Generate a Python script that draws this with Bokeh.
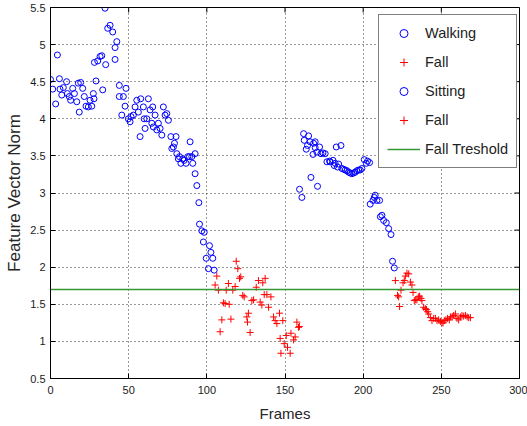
from bokeh.plotting import figure
from bokeh.models import Legend, LegendItem, FixedTicker
from bokeh.embed import file_html
from bokeh.resources import INLINE

# ---------------- data ----------------
walk_frames = [0.0, 1.4, 3.3, 4.4, 5.7, 6.1, 7.2, 8.2, 10.3, 10.8, 12.0, 12.9, 14.2, 15.3,
               16.8, 17.8, 18.4, 19.3, 20.6, 21.6, 22.7, 24.2, 25.3, 26.4, 27.4, 27.8, 29.1,
               28.1, 30.2, 31.7, 32.8, 33.4, 34.9, 35.3, 36.6, 38.1, 39.8, 41.3, 41.3, 42.4,
               44.0, 44.0, 45.6, 46.6, 47.7, 48.3, 49.8, 50.9, 51.5, 53.0, 54.1, 55.2, 56.2,
               57.3, 57.7, 59.4, 59.9, 60.5, 61.6, 62.6, 63.7, 64.8, 65.4, 65.8, 66.9, 68.0,
               69.0, 70.1, 71.2, 72.2, 73.3, 74.4, 75.4, 77.0, 77.6, 78.6, 79.3, 80.3, 80.8,
               81.8, 82.5, 83.4, 84.6, 85.5, 86.7, 87.8, 88.9, 89.3, 90.4, 91.0, 92.5, 92.5,
               93.6, 94.9, 95.3, 96.8, 98.3, 97.8, 101.7, 102.6, 99.6, 103.8, 101.0, 104.7]
walk_values = [4.53, 4.40, 4.20, 4.86, 4.54, 4.40, 4.32, 4.42, 4.50, 4.34, 4.30, 4.25, 4.41, 4.34,
               4.23, 4.48, 4.09, 4.49, 4.41, 4.30, 4.17, 4.16, 4.25, 4.17, 4.34, 4.27, 4.51,
               4.76, 4.78, 4.84, 4.85, 4.39, 5.49, 4.73, 5.22, 5.26, 5.17, 4.80, 4.96, 5.04,
               4.45, 4.30, 4.05, 4.30, 4.17, 4.41, 4.00, 3.96, 4.03, 4.05, 4.16, 4.25, 4.09,
               3.76, 4.27, 4.16, 4.00, 3.87, 4.00, 4.27, 4.12, 3.94, 4.16, 3.89, 4.05, 3.85,
               3.94, 3.87, 3.78, 4.16, 4.05, 4.07, 3.98, 3.76, 3.60, 3.62, 3.67, 3.76, 3.53,
               3.46, 3.49, 3.40, 3.46, 3.44, 3.40, 3.49, 3.49, 3.69, 3.49, 3.40, 3.53, 3.26,
               3.10, 2.87, 2.58, 2.49, 2.47, 2.34, 2.29, 2.20, 2.12, 2.12, 1.98, 1.96]

fall1_frames = [106.4, 105.3, 107.4, 112.4, 113.8, 110.6, 111.7, 114.3, 109.6, 108.5, 115.4,
                116.6, 118.1, 118.8, 119.8, 120.9, 121.7, 123.0, 123.9, 125.6, 126.0, 126.6,
                127.7, 128.8, 129.9, 131.6, 133.0, 134.1, 135.2, 135.8, 137.3, 136.7, 138.4,
                139.5, 141.0, 142.7, 143.7, 144.8, 146.5, 146.9, 148.6, 147.4, 149.5, 150.8,
                151.6, 153.3, 153.8, 155.5, 156.5, 157.6, 158.6, 159.2]
fall1_values = [1.88, 1.76, 1.69, 1.69, 1.78, 1.52, 1.51, 1.50, 1.29, 1.13, 1.30,
                1.69, 1.74, 2.08, 1.98, 1.85, 1.87, 1.62, 1.60, 1.33, 1.26, 1.38,
                1.12, 1.55, 1.56, 1.73, 1.82, 1.53, 1.49, 1.79, 1.85, 1.63, 1.63,
                1.46, 1.60, 1.33, 1.28, 1.24, 1.38, 1.04, 1.28, 0.84, 0.97, 1.08,
                0.92, 0.84, 1.11, 1.02, 1.06, 1.26, 1.19, 1.20]

sit_frames = [159.3, 160.8, 161.9, 162.3, 163.6, 164.4, 165.1, 166.1, 166.6, 167.9, 168.3,
              169.3, 169.3, 170.4, 170.8, 172.1, 173.0, 174.3, 175.7, 176.8, 178.5, 178.9,
              180.7, 181.5, 182.1, 182.8, 183.6, 184.3, 185.8, 186.4, 187.5, 188.5, 189.6,
              190.7, 191.7, 192.8, 193.9, 194.9, 196.0, 197.1, 198.1, 199.2, 200.7, 202.0,
              202.8, 204.1, 204.5, 206.3, 207.1, 207.7, 208.8, 210.5, 211.0, 212.0, 213.1,
              214.8, 216.3, 217.8, 218.8, 219.9]
sit_values = [3.05, 2.94, 3.80, 3.71, 3.59, 3.64, 3.77, 3.69, 3.21, 3.52, 3.67,
              3.69, 3.61, 3.55, 3.09, 3.62, 3.53, 3.54, 3.53, 3.42, 3.43, 3.42,
              3.44, 3.37, 3.40, 3.62, 3.35, 3.39, 3.64, 3.33, 3.32, 3.31, 3.30,
              3.28, 3.27, 3.26, 3.27, 3.28, 3.30, 3.31, 3.31, 3.33, 3.45, 3.40,
              3.43, 3.41, 2.85, 2.90, 2.94, 2.97, 2.90, 2.90, 2.68, 2.70, 2.63,
              2.60, 2.52, 2.44, 2.08, 1.99]

fall2_frames = [220.6, 222.0, 223.3, 222.7, 224.2, 225.5, 226.3, 227.0, 228.0, 229.1, 230.2,
                231.2, 231.9, 232.7, 233.6, 234.4, 235.3, 236.1, 237.0, 237.6, 238.7, 239.8,
                240.4, 241.3, 241.9, 243.0, 244.0, 245.1, 246.2, 247.2, 248.3, 249.4, 250.4,
                251.1, 251.9, 252.9, 254.0, 255.1, 255.8, 256.9, 257.9, 259.0, 260.0, 261.1,
                262.2, 263.2, 264.3, 265.4, 266.5, 267.5, 268.6]
fall2_values = [1.82, 1.62, 1.47, 1.60, 1.69, 1.79, 1.82, 1.88, 1.92, 1.91, 1.80,
                1.76, 1.66, 1.55, 1.56, 1.56, 1.60, 1.61, 1.58, 1.55, 1.46, 1.44,
                1.43, 1.40, 1.37, 1.32, 1.28, 1.31, 1.31, 1.28, 1.29, 1.27, 1.25,
                1.25, 1.28, 1.29, 1.31, 1.29, 1.33, 1.33, 1.35, 1.37, 1.31, 1.29,
                1.33, 1.35, 1.34, 1.35, 1.33, 1.32, 1.32]

threshold_frames = [0, 300]
threshold_values = [1.7, 1.7]

x_ticks = [0, 50, 100, 150, 200, 250, 300]
y_ticks = [0.5, 1, 1.5, 2, 2.5, 3, 3.5, 4, 4.5, 5, 5.5]

labels = ["Walking", "Fall", "Sitting", "Fall", "Fall Treshold"]
FONT = "Liberation Sans"

X0, X1, Y0, Y1 = 0, 300, 0.5, 5.5
FRAME_W, FRAME_H = 469, 371      # plot-area size in px (527-50-8, 426-7-48)
TICK_PX = 5

# ---------------- figure ----------------
p = figure(width=527, height=426, x_range=(X0, X1), y_range=(Y0, Y1),
           output_backend="svg", toolbar_location=None,
           min_border_left=50, min_border_right=8, min_border_top=7, min_border_bottom=48)
p.background_fill_color = "white"
p.border_fill_color = "white"
p.outline_line_color = "black"
p.outline_line_width = 1

for ax in (p.xaxis[0], p.yaxis[0]):
    ax.major_tick_in = TICK_PX
    ax.major_tick_out = 0
    ax.minor_tick_line_color = None
    ax.axis_line_color = "black"
    ax.major_tick_line_color = "black"
    ax.major_label_text_font = FONT
    ax.major_label_text_font_size = "11px"
    ax.major_label_text_color = "#1a1a1a"
    ax.axis_label_text_font = FONT
    ax.axis_label_text_font_style = "normal"
    ax.axis_label_text_color = "#262626"

p.xaxis[0].ticker = FixedTicker(ticks=x_ticks)
p.yaxis[0].ticker = FixedTicker(ticks=y_ticks)
p.xaxis[0].axis_label = "Frames"
p.yaxis[0].axis_label = "Feature Vector Norm"
p.xaxis[0].axis_label_text_font_size = "15px"
p.yaxis[0].axis_label_text_font_size = "17px"
p.xaxis[0].major_label_standoff = 7
p.yaxis[0].major_label_standoff = 5
p.xaxis[0].axis_label_standoff = 8
p.yaxis[0].axis_label_standoff = 3

p.grid.grid_line_color = "#333333"
p.grid.grid_line_dash = "1 3"
p.grid.grid_line_width = 1

# inward tick marks on the top and right edges of the box (MATLAB "box on")
dy = (Y1 - Y0) / FRAME_H * TICK_PX
dx = (X1 - X0) / FRAME_W * TICK_PX
p.segment(x0=x_ticks, y0=[Y1] * len(x_ticks), x1=x_ticks, y1=[Y1 - dy] * len(x_ticks),
          line_color="black", line_width=1)
p.segment(x0=[X1] * len(y_ticks), y0=y_ticks, x1=[X1 - dx] * len(y_ticks), y1=y_ticks,
          line_color="black", line_width=1)

r_walk = p.scatter(walk_frames, walk_values, marker="circle", size=6,
                   line_color="#0000ff", fill_color=None, line_width=1)
r_fall1 = p.scatter(fall1_frames, fall1_values, marker="cross", size=7,
                    line_color="#ff0000", line_width=1)
r_sit = p.scatter(sit_frames, sit_values, marker="circle", size=6,
                  line_color="#0000ff", fill_color=None, line_width=1)
r_fall2 = p.scatter(fall2_frames, fall2_values, marker="cross", size=7,
                    line_color="#ff0000", line_width=1)
r_thr = p.line(threshold_frames, threshold_values, line_color="#349934", line_width=1.6)

legend = Legend(items=[LegendItem(label=labels[0], renderers=[r_walk]),
                       LegendItem(label=labels[1], renderers=[r_fall1]),
                       LegendItem(label=labels[2], renderers=[r_sit]),
                       LegendItem(label=labels[3], renderers=[r_fall2]),
                       LegendItem(label=labels[4], renderers=[r_thr])],
                location=(328, 210))
legend.margin = 0
legend.padding = 8
legend.spacing = 9
legend.label_height = 20
legend.glyph_height = 20
legend.glyph_width = 33
legend.label_standoff = 5
legend.label_text_font = FONT
legend.label_text_font_size = "14.5px"
legend.label_text_color = "#222222"
legend.border_line_color = "black"
legend.border_line_width = 1
legend.background_fill_color = "white"
legend.background_fill_alpha = 1
p.add_layout(legend)

open("out.html", "w").write(file_html(p, INLINE))
